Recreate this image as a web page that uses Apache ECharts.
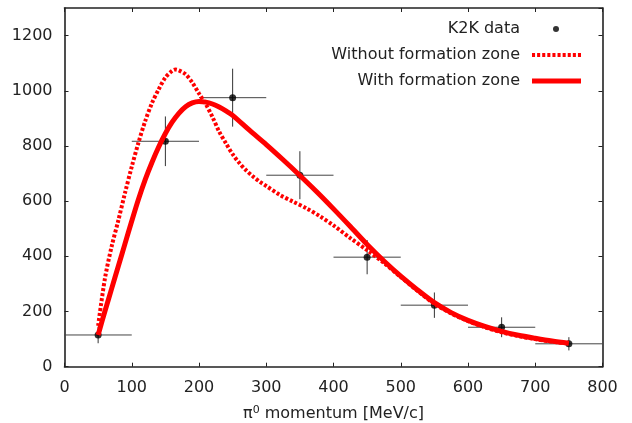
<!DOCTYPE html>
<html><head><meta charset="utf-8">
<script src="https://cdn.jsdelivr.net/npm/echarts@6/dist/echarts.min.js"></script>
<style>html,body{margin:0;padding:0;background:#fff}#c{width:632px;height:423px}</style>
</head><body><div id="c"></div>
<script>
// K2K data points
const dataX = [50, 150, 250, 350, 450, 550, 650, 750];
const dataY = [115, 817, 975, 694, 397, 223, 143, 83];
const xErr = [50, 50, 50, 50, 50, 50, 50, 50];
const yErr = [30, 90, 105, 87, 62, 46, 36, 24];

// Without formation zone (dashed)
const withoutX = [50, 60, 70, 80, 90, 100, 110, 120, 130, 140, 150, 160, 165, 170, 180, 190, 200, 210, 220, 230, 240, 250, 260, 270, 280, 290, 300, 320, 340, 360, 380, 400, 425, 450, 475, 500, 525, 550, 575, 600, 625, 650, 675, 700, 725, 750];
const withoutY = [148, 318, 435, 530, 630, 725, 812, 890, 955, 1005, 1048, 1072, 1077, 1074, 1060, 1030, 990, 952, 905, 852, 810, 770, 738, 712, 690, 671, 655, 623, 598, 574, 545, 512, 466, 422, 376, 325, 275, 228, 193, 165, 143, 125, 111, 100, 91, 84];

// With formation zone (solid)
const withX = [50, 60, 70, 80, 90, 100, 110, 120, 130, 140, 150, 160, 170, 180, 190, 200, 210, 220, 230, 240, 250, 275, 300, 325, 350, 375, 400, 425, 450, 475, 500, 525, 550, 575, 600, 625, 650, 675, 700, 725, 750];
const withY = [115, 200, 282, 364, 446, 528, 607, 678, 740, 796, 845, 886, 918, 942, 956, 961, 959, 952, 941, 927, 911, 857, 805, 750, 693, 634, 572, 508, 443, 383, 328, 278, 232, 196, 168, 146, 128, 114, 103, 93, 85];

const xTicks = [0, 100, 200, 300, 400, 500, 600, 700, 800];
const yTicks = [0, 200, 400, 600, 800, 1000, 1200];

const FONT = 'DejaVu Sans';
const chart = echarts.init(document.getElementById('c'), null, {renderer: 'canvas'});

const zip = (xs, ys) => xs.map((x, i) => [x, ys[i]]);
const errData = dataX.map((x, i) => [x, dataY[i], xErr[i], yErr[i]]);

function axisCommon() {
  return {
    axisLine: {show: true, onZero: false, lineStyle: {color: '#222', width: 1.6}},
    axisTick: {show: true, inside: true, length: 4, lineStyle: {color: '#222', width: 1}},
    splitLine: {show: false}
  };
}

const dashPath = 'path://' + Array.from({length: 10}, (_, i) => 'M' + (i * 5) + ',0h3v4h-3z').join('');

chart.setOption({
  animation: false,
  grid: {left: 64.5, right: 29.5, top: 8, bottom: 56.3, containLabel: false, outerBoundsMode: 'none'},
  xAxis: [
    Object.assign({
      type: 'value', min: xTicks[0], max: xTicks[xTicks.length - 1], interval: 100, position: 'bottom',
      axisLabel: {fontFamily: FONT, fontSize: 16, color: '#222', margin: 13},
      name: '{a|π}{s|0}{a| momentum [MeV/c]}',
      nameLocation: 'middle', nameGap: 38,
      nameTextStyle: {rich: {
        a: {fontFamily: FONT, fontSize: 16, color: '#222'},
        s: {fontFamily: FONT, fontSize: 11, color: '#222', verticalAlign: 'bottom', padding: [0, 0, 8, 0]}
      }}
    }, axisCommon()),
    Object.assign({
      type: 'value', min: 0, max: 800, interval: 100, position: 'top',
      axisLabel: {show: false}
    }, axisCommon())
  ],
  yAxis: [
    Object.assign({
      type: 'value', min: 0, max: 1300, interval: 200, position: 'left',
      axisLabel: {fontFamily: FONT, fontSize: 16, color: '#222', margin: 12, showMaxLabel: false,
        formatter: v => (yTicks.indexOf(v) >= 0 ? String(v) : '')}
    }, axisCommon()),
    Object.assign({
      type: 'value', min: 0, max: 1300, interval: 200, position: 'right',
      axisLabel: {show: false}
    }, axisCommon())
  ],
  legend: [
    {
      right: 68, top: 16, orient: 'vertical', align: 'right',
      itemWidth: 6, itemHeight: 6, icon: 'circle',
      data: [{name: 'K2K data', itemStyle: {color: '#000'}}],
      textStyle: {fontFamily: FONT, fontSize: 16, color: '#222', padding: [0, 28, 0, 0]}
    },
    {
      right: 46, top: 42, orient: 'vertical', align: 'right',
      itemWidth: 49, itemHeight: 5, itemGap: 10,
      data: [
        {name: 'Without formation zone', icon: dashPath, itemStyle: {color: '#ff0000'}},
        {name: 'With formation zone', icon: 'rect', itemStyle: {color: '#ff0000'}}
      ],
      textStyle: {fontFamily: FONT, fontSize: 16, color: '#222', padding: [0, 7, 0, 0]}
    }
  ],
  series: [
    {
      type: 'custom', name: 'errors', z: 1,
      renderItem: function (params, api) {
        const x = api.value(0), y = api.value(1), ex = api.value(2), ey = api.value(3);
        const l = api.coord([x - ex, y]), r = api.coord([x + ex, y]);
        const t = api.coord([x, y + ey]), b = api.coord([x, y - ey]);
        return {type: 'group', children: [
          {type: 'line', shape: {x1: l[0], y1: l[1], x2: r[0], y2: r[1]}, style: {stroke: '#444', lineWidth: 1}},
          {type: 'line', shape: {x1: t[0], y1: t[1], x2: b[0], y2: b[1]}, style: {stroke: '#333', lineWidth: 1}}
        ]};
      },
      data: errData
    },
    {
      type: 'scatter', name: 'K2K data', z: 2,
      symbol: 'circle', symbolSize: 7, itemStyle: {color: '#000'},
      data: zip(dataX, dataY)
    },
    {
      type: 'line', name: 'Without formation zone', z: 3,
      showSymbol: false, symbol: 'none', smooth: 0.3,
      lineStyle: {color: '#ff0000', width: 4, type: [3, 2]},
      itemStyle: {color: '#ff0000'},
      data: zip(withoutX, withoutY)
    },
    {
      type: 'line', name: 'With formation zone', z: 4,
      showSymbol: false, symbol: 'none', smooth: 0.3,
      lineStyle: {color: '#ff0000', width: 5},
      itemStyle: {color: '#ff0000'},
      data: zip(withX, withY)
    }
  ]
});
</script>
</body></html>
